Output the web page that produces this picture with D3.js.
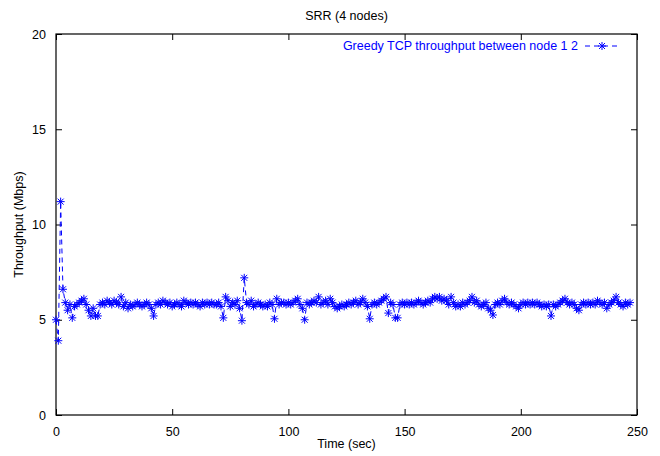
<!DOCTYPE html>
<html>
<head>
<meta charset="utf-8">
<script src="https://cdn.jsdelivr.net/npm/d3@7"></script>
<style>
  body { margin: 0; background: #fff; }
  text { font-family: "Liberation Sans", Arial, sans-serif; }
</style>
</head>
<body>
<div id="chart"></div>
<script>
// throughput samples, one per second starting at t = 0
const throughput = [
  5.0, 3.9, 11.2, 6.6, 5.9, 5.5, 5.8, 5.1, 5.7, 5.8,
  5.9, 6.0, 6.1, 5.8, 5.5, 5.2, 5.6, 5.2, 5.2, 5.8,
  5.9, 5.8, 6.0, 5.9, 5.8, 6.0, 5.9, 5.8, 6.2, 5.7,
  5.9, 5.6, 5.8, 5.7, 5.8, 5.9, 5.8, 5.7, 5.8, 5.9,
  5.8, 5.6, 5.2, 5.8, 5.9, 5.8, 6.0, 5.9, 5.8, 5.9,
  5.7, 5.8, 5.9, 5.8, 5.7, 6.0, 5.9, 5.8, 5.9, 5.8,
  5.9, 5.8, 5.7, 5.9, 5.8, 5.9, 5.8, 5.9, 5.8, 5.8,
  5.9, 5.7, 5.1, 6.2, 6.0, 5.7, 5.9, 5.8, 6.0, 5.6,
  4.95, 7.2, 5.9, 5.8, 6.0, 5.7, 5.8, 5.9, 5.8, 5.7,
  5.8, 5.7, 5.9, 5.8, 5.05, 6.1, 5.8, 5.9, 5.9, 5.8,
  5.9, 5.8, 5.9, 6.0, 6.1, 5.8, 5.6, 5.0, 5.9, 5.8,
  5.9, 6.0, 5.9, 6.2, 5.8, 5.9, 6.0, 5.8, 6.1, 5.9,
  5.7, 5.6, 5.7, 5.8, 5.7, 5.8, 5.9, 5.8, 5.9, 6.0,
  5.8, 5.9, 6.1, 5.9, 5.7, 5.05, 5.8, 5.9, 5.8, 5.9,
  6.0, 6.1, 6.2, 5.35, 5.9, 5.8, 5.1, 5.1, 5.8, 5.9,
  5.8, 5.9, 5.8, 5.9, 5.8, 5.9, 6.0, 5.9, 5.8, 5.9,
  6.0, 5.9, 6.1, 6.2, 6.1, 6.2, 6.0, 6.1, 6.0, 5.8,
  6.2, 5.9, 5.7, 5.8, 5.7, 5.9, 5.8, 5.9, 6.0, 6.2,
  5.9, 6.0, 5.8, 5.7, 5.8, 5.9, 5.6, 5.5, 5.25, 5.8,
  5.9, 5.8, 6.0, 6.1, 5.9, 5.8, 5.9, 5.8, 5.7, 5.6,
  5.8, 5.9, 5.8, 5.9, 5.8, 5.9, 5.8, 5.9, 5.8, 5.7,
  5.8, 5.7, 5.8, 5.2, 5.8, 5.7, 5.8, 5.9, 6.0, 6.1,
  5.9, 5.8, 5.9, 5.8, 5.6, 5.5, 5.8, 5.9, 5.8, 5.9,
  5.8, 5.9, 5.8, 6.0, 5.9, 5.8, 5.9, 5.6, 5.8, 5.9,
  6.0, 6.2, 5.9, 5.8, 5.7, 5.9, 5.8, 5.9
];
const xTicks = [0, 50, 100, 150, 200, 250];
const yTicks = [0, 5, 10, 15, 20];
const title = 'SRR (4 nodes)';
const seriesName = 'Greedy TCP throughput between node 1 2';

const data = throughput.map((v, i) => ({t: i, v: v}));

const width = 660, height = 456;
const margin = {top: 34, right: 23, bottom: 41, left: 56};
const blue = '#0000ff';

const svg = d3.select('#chart').append('svg')
    .attr('width', width)
    .attr('height', height);

const x = d3.scaleLinear().domain([0, 250]).range([margin.left, width - margin.right]);
const y = d3.scaleLinear().domain([0, 20]).range([height - margin.bottom, margin.top]);

const tickLen = 6;

// axes, gnuplot style: inward ticks mirrored on both sides
svg.append('g')
    .attr('transform', 'translate(0,' + y(0) + ')')
    .call(d3.axisBottom(x).tickValues(xTicks).tickSizeInner(-tickLen).tickSizeOuter(0).tickPadding(12))
    .call(g => g.select('.domain').remove());
svg.append('g')
    .attr('transform', 'translate(0,' + y(20) + ')')
    .call(d3.axisTop(x).tickValues(xTicks).tickSizeInner(-tickLen).tickSizeOuter(0).tickFormat(''))
    .call(g => g.select('.domain').remove());
svg.append('g')
    .attr('transform', 'translate(' + x(0) + ',0)')
    .call(d3.axisLeft(y).tickValues(yTicks).tickSizeInner(-tickLen).tickSizeOuter(0).tickPadding(10))
    .call(g => g.select('.domain').remove());
svg.append('g')
    .attr('transform', 'translate(' + x(250) + ',0)')
    .call(d3.axisRight(y).tickValues(yTicks).tickSizeInner(-tickLen).tickSizeOuter(0).tickFormat(''))
    .call(g => g.select('.domain').remove());

svg.selectAll('.tick line').attr('stroke', '#000');
svg.selectAll('.tick text')
    .attr('fill', '#000')
    .style('font-size', '12.5px')
    .style('font-family', '"Liberation Sans", Arial, sans-serif');

// frame
svg.append('rect')
    .attr('x', x(0))
    .attr('y', y(20))
    .attr('width', x(250) - x(0))
    .attr('height', y(0) - y(20))
    .attr('fill', 'none')
    .attr('stroke', '#000')
    .attr('stroke-width', 1.2);

// series line
const line = d3.line()
    .x(d => x(d.t))
    .y(d => y(d.v));

svg.append('path')
    .datum(data)
    .attr('d', line)
    .attr('fill', 'none')
    .attr('stroke', blue)
    .attr('stroke-width', 1)
    .attr('stroke-dasharray', '5,4');

// star markers
const r = 4, rd = 3;
function star(cx, cy) {
    return 'M' + (cx - r) + ',' + cy + 'H' + (cx + r) +
        'M' + cx + ',' + (cy - r) + 'V' + (cy + r) +
        'M' + (cx - rd) + ',' + (cy - rd) + 'L' + (cx + rd) + ',' + (cy + rd) +
        'M' + (cx - rd) + ',' + (cy + rd) + 'L' + (cx + rd) + ',' + (cy - rd);
}

svg.append('g')
    .selectAll('path')
    .data(data)
    .join('path')
    .attr('d', d => star(x(d.t), y(d.v)))
    .attr('stroke', blue)
    .attr('stroke-width', 1)
    .attr('fill', 'none');

// legend
const legendY = 46;
svg.append('text')
    .attr('x', 578)
    .attr('y', legendY)
    .attr('dy', '0.35em')
    .attr('text-anchor', 'end')
    .attr('fill', blue)
    .style('font-size', '12.5px')
    .text(seriesName);
svg.append('line')
    .attr('x1', 585).attr('x2', 620)
    .attr('y1', legendY).attr('y2', legendY)
    .attr('stroke', blue)
    .attr('stroke-dasharray', '5,4');
svg.append('path')
    .attr('d', star(602, legendY))
    .attr('stroke', blue)
    .attr('fill', 'none');

// title and axis labels
svg.append('text')
    .attr('x', (x(0) + x(250)) / 2)
    .attr('y', 20)
    .attr('text-anchor', 'middle')
    .style('font-size', '12.5px')
    .text(title);

svg.append('text')
    .attr('x', (x(0) + x(250)) / 2)
    .attr('y', 448)
    .attr('text-anchor', 'middle')
    .style('font-size', '12.5px')
    .text('Time (sec)');

svg.append('text')
    .attr('transform', 'translate(23,' + (y(10)) + ') rotate(-90)')
    .attr('text-anchor', 'middle')
    .style('font-size', '12.5px')
    .text('Throughput (Mbps)');
</script>
</body>
</html>
